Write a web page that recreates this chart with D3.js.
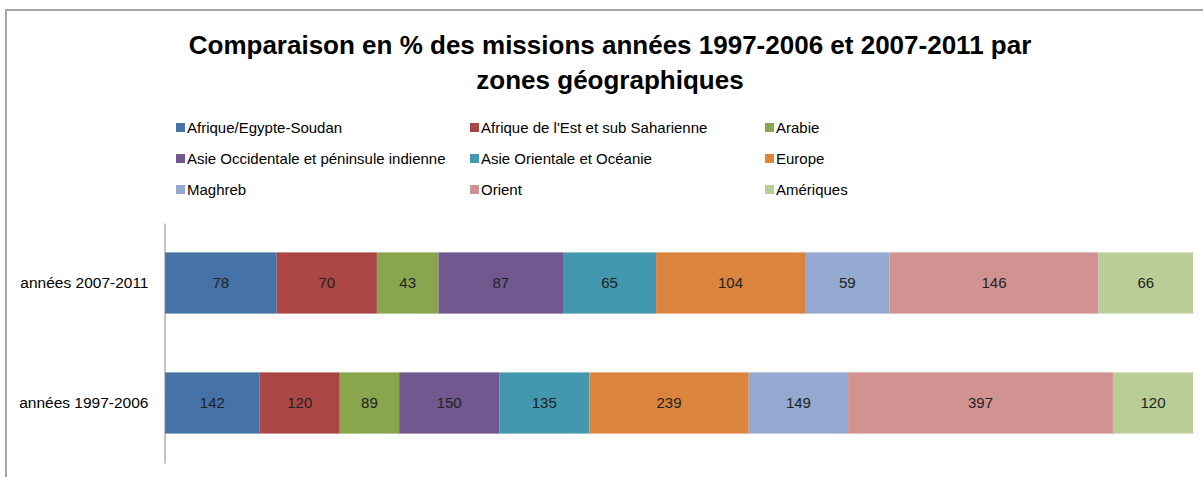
<!DOCTYPE html>
<html>
<head>
<meta charset="utf-8">
<script src="https://cdn.jsdelivr.net/npm/d3@7"></script>
<style>
body { margin: 0; background: #fff; }
text { font-family: "Liberation Sans", Arial, sans-serif; }
</style>
</head>
<body>
<div id="chart"></div>
<script>
var periods = ["années 2007-2011", "années 1997-2006"];
var zones = ["Afrique/Egypte-Soudan", "Afrique de l'Est et sub Saharienne", "Arabie",
  "Asie Occidentale et péninsule indienne", "Asie Orientale et Océanie", "Europe",
  "Maghreb", "Orient", "Amériques"];
var values2007 = [78, 70, 43, 87, 65, 104, 59, 146, 66];
var values1997 = [142, 120, 89, 150, 135, 239, 149, 397, 120];
var colors = ["#4572a7", "#aa4643", "#89a54e", "#71588f", "#4198af", "#db843d", "#93a9cf", "#d19392", "#b9cd96"];
var titleLines = ["Comparaison en % des missions années 1997-2006 et 2007-2011 par", "zones géographiques"];

var width = 1203, height = 477;

var svg = d3.select("#chart").append("svg")
    .attr("width", width)
    .attr("height", height);

// chart frame
svg.append("rect")
    .attr("x", 6).attr("y", 10)
    .attr("width", 1300).attr("height", 600)
    .attr("fill", "none")
    .attr("stroke", "#a6a6a6")
    .attr("stroke-width", 2);

// title
svg.append("g").selectAll("text")
    .data(titleLines)
  .enter().append("text")
    .attr("x", 610)
    .attr("y", function(d, i) { return 54 + i * 35; })
    .attr("text-anchor", "middle")
    .attr("font-size", 26)
    .attr("font-weight", "bold")
    .attr("fill", "#000")
    .text(function(d) { return d; });

// legend
var legend = svg.append("g").selectAll("g")
    .data(zones)
  .enter().append("g")
    .attr("transform", function(d, i) {
      return "translate(" + [176, 470, 765][i % 3] + "," + (128 + Math.floor(i / 3) * 31) + ")";
    });
legend.append("rect")
    .attr("x", 0).attr("y", -5)
    .attr("width", 9).attr("height", 9)
    .attr("fill", function(d, i) { return colors[i]; });
legend.append("text")
    .attr("x", 11)
    .attr("y", 5)
    .attr("font-size", 15)
    .attr("fill", "#000")
    .text(function(d) { return d; });

// stacked 100% bars
var rows = [values2007, values1997];
var x = d3.scaleLinear().domain([0, 1]).range([165, 1193]);
var y = d3.scaleBand().domain(periods).range([223, 463]).paddingInner(0.49).paddingOuter(0.245);

var rowG = svg.append("g").selectAll("g")
    .data(rows)
  .enter().append("g");

rowG.each(function(vals, r) {
  var total = d3.sum(vals);
  var cum = 0;
  var segs = vals.map(function(v, i) {
    var s = { v: v, i: i, x0: cum / total, x1: (cum + v) / total };
    cum += v;
    return s;
  });
  var g = d3.select(this);
  g.selectAll("rect")
      .data(segs)
    .enter().append("rect")
      .attr("x", function(d) { return x(d.x0); })
      .attr("y", y(periods[r]))
      .attr("width", function(d) { return x(d.x1) - x(d.x0); })
      .attr("height", y.bandwidth())
      .attr("fill", function(d) { return colors[d.i]; });
  g.selectAll("text")
      .data(segs)
    .enter().append("text")
      .attr("x", function(d) { return (x(d.x0) + x(d.x1)) / 2; })
      .attr("y", y(periods[r]) + y.bandwidth() / 2 + 5)
      .attr("text-anchor", "middle")
      .attr("font-size", 15)
      .attr("fill", "#222")
      .text(function(d) { return d.v; });
});

// category axis
var yAxis = d3.axisLeft(y).tickSize(0).tickPadding(16);
var axG = svg.append("g")
    .attr("transform", "translate(164.5,0)")
    .call(yAxis);
axG.select(".domain").attr("stroke", "#868686");
axG.selectAll("text")
    .attr("font-size", 15.5)
    .attr("font-family", "Liberation Sans, Arial, sans-serif")
    .attr("fill", "#000");
</script>
</body>
</html>
